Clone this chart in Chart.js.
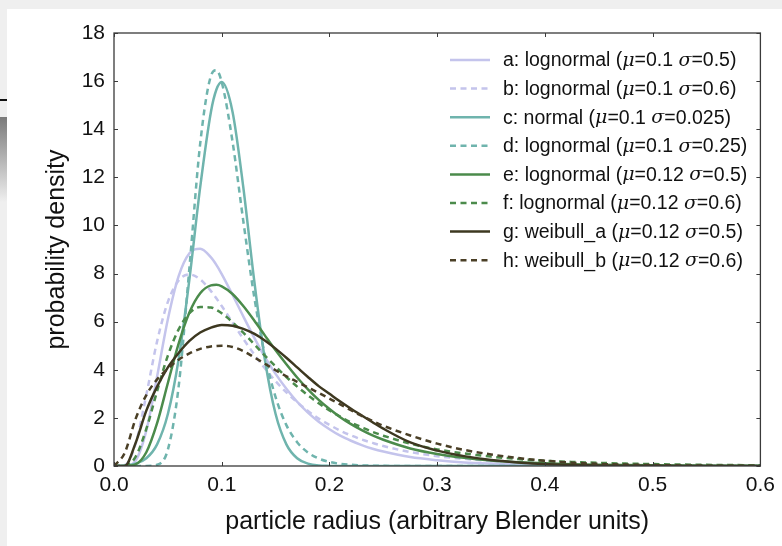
<!DOCTYPE html>
<html>
<head>
<meta charset="utf-8">
<script src="https://cdn.jsdelivr.net/npm/chart.js@4"></script>
<style>
  body { margin: 0; background: #efefef; width: 782px; height: 546px; overflow: hidden; position: relative; }
  #wrap { position: absolute; left: 7px; top: 9px; width: 775px; height: 537px; background: #fff; }
  #mark { position: absolute; left: 0; top: 99px; width: 7px; height: 2px; background: #111; }
  #shade { position: absolute; left: 0; top: 117px; width: 7px; height: 85px; background: linear-gradient(#7a7a7a, #efefef); }
</style>
</head>
<body>
<div id="mark"></div>
<div id="shade"></div>
<div id="wrap"><canvas id="distChart"></canvas></div>
<script>
// particle radius sample points
var xs = [0, 0.01, 0.02, 0.03, 0.04, 0.05, 0.06, 0.07, 0.08, 0.09, 0.095, 0.10, 0.11, 0.12, 0.13, 0.14,
  0.15, 0.16, 0.17, 0.18, 0.19, 0.20, 0.21, 0.22, 0.23, 0.24, 0.25,
  0.275, 0.3, 0.325, 0.35, 0.375, 0.4, 0.425, 0.45, 0.475, 0.5, 0.525, 0.55, 0.575, 0.6];

// probability density, one list per curve
var lognA = [0, 0.002, 0.22, 1.47, 3.72, 6.10, 7.89, 8.84, 9.03, 8.67, 8.36, 7.98, 7.12, 6.22, 5.35, 4.54,
  3.83, 3.21, 2.67, 2.22, 1.84, 1.53, 1.26, 1.05, 0.87, 0.72, 0.60,
  0.37, 0.24, 0.15, 0.10, 0.065, 0.043, 0.028, 0.019, 0.013, 0.009, 0.006, 0.004, 0.003, 0.002];
var lognB = [0, 0.04, 0.91, 2.96, 5.18, 6.82, 7.71, 7.96, 7.76, 7.27, 6.97, 6.65, 5.97, 5.29, 4.65, 4.06,
  3.53, 3.06, 2.65, 2.29, 1.97, 1.71, 1.47, 1.27, 1.10, 0.96, 0.83,
  0.58, 0.41, 0.30, 0.21, 0.16, 0.115, 0.085, 0.064, 0.048, 0.036, 0.027, 0.021, 0.016, 0.012];
var normC = [0, 0.02, 0.1, 0.32, 0.9, 2.16, 4.44, 7.76, 11.59, 14.73, 15.64, 15.96, 14.73, 11.59, 7.76, 4.44,
  2.16, 0.9, 0.32, 0.1, 0.02, 0.005, 0, 0, 0, 0, 0,
  0, 0, 0, 0, 0, 0, 0, 0, 0, 0, 0, 0, 0, 0];
var lognD = [0, 0, 0, 0, 0.05, 0.68, 3.30, 8.24, 13.4, 16.22, 16.45, 15.96, 13.49, 10.19, 7.08, 4.61,
  2.86, 1.70, 0.99, 0.56, 0.31, 0.17, 0.09, 0.05, 0.027, 0.014, 0.007,
  0.002, 0, 0, 0, 0, 0, 0, 0, 0, 0, 0, 0, 0, 0];
var lognE = [0, 0, 0.065, 0.57, 1.78, 3.45, 5.09, 6.38, 7.18, 7.51, 7.53, 7.47, 7.15, 6.65, 6.06, 5.43,
  4.81, 4.23, 3.68, 3.19, 2.75, 2.37, 2.03, 1.74, 1.49, 1.27, 1.09,
  0.73, 0.50, 0.34, 0.23, 0.16, 0.11, 0.077, 0.054, 0.038, 0.027, 0.019, 0.014, 0.010, 0.007];
var lognF = [0, 0.012, 0.38, 1.54, 3.11, 4.59, 5.68, 6.35, 6.61, 6.59, 6.49, 6.35, 5.98, 5.54, 5.07, 4.59,
  4.14, 3.70, 3.30, 2.94, 2.61, 2.31, 2.05, 1.81, 1.61, 1.42, 1.26,
  0.93, 0.69, 0.52, 0.39, 0.29, 0.22, 0.17, 0.13, 0.10, 0.079, 0.061, 0.048, 0.038, 0.030];
var weibG = [0, 0, 0.95, 2.3, 3.3, 4.1, 4.7, 5.2, 5.55, 5.75, 5.82, 5.86, 5.83, 5.7, 5.5, 5.22,
  4.88, 4.5, 4.1, 3.7, 3.32, 3.0, 2.68, 2.38, 2.1, 1.82, 1.55,
  0.98, 0.64, 0.41, 0.25, 0.15, 0.08, 0.045, 0.025, 0.013, 0.007, 0.003, 0, 0, 0];
var weibH = [0, 0.55, 1.95, 2.95, 3.6, 4.05, 4.42, 4.68, 4.87, 4.97, 4.99, 5.0, 4.95, 4.78, 4.52, 4.25,
  3.98, 3.73, 3.5, 3.27, 3.04, 2.8, 2.56, 2.32, 2.08, 1.87, 1.67,
  1.27, 0.93, 0.67, 0.48, 0.33, 0.22, 0.14, 0.09, 0.06, 0.04, 0.025, 0.015, 0.01, 0.005];

var labels = [
  'a: lognormal (μ=0.1 σ=0.5)',
  'b: lognormal (μ=0.1 σ=0.6)',
  'c: normal (μ=0.1 σ=0.025)',
  'd: lognormal (μ=0.1 σ=0.25)',
  'e: lognormal (μ=0.12 σ=0.5)',
  'f: lognormal (μ=0.12 σ=0.6)',
  'g: weibull_a (μ=0.12 σ=0.5)',
  'h: weibull_b (μ=0.12 σ=0.6)'
];
var series = [lognA, lognB, normC, lognD, lognE, lognF, weibG, weibH];
var colors = ['#c4c4ec', '#c4c4ec', '#6fb4ad', '#6fb4ad', '#4b8b4b', '#4b8b4b', '#3d3820', '#4a3f26'];
var dashed = [false, true, false, true, false, true, false, true];
var xTicks = [0, 0.1, 0.2, 0.3, 0.4, 0.5, 0.6];
var yTicks = [0, 2, 4, 6, 8, 10, 12, 14, 16, 18];

var FONT = '"Liberation Sans", Arial, sans-serif';
var DASH = [6, 4.5];

function toPoints(ys) {
  return xs.map(function(x, i) { return {x: x, y: ys[i]}; });
}

var datasets = series.map(function(ys, i) {
  return {
    label: labels[i],
    data: toPoints(ys),
    borderColor: colors[i],
    backgroundColor: colors[i],
    borderWidth: 2.5,
    borderDash: dashed[i] ? DASH : [],
    pointRadius: 0,
    cubicInterpolationMode: 'monotone',
    order: series.length - i
  };
});

// frame, inward tick marks and the in-plot legend (matplotlib look)
var framePlugin = {
  id: 'framePlugin',
  afterDatasetsDraw: function(chart) {
    var ctx = chart.ctx, ca = chart.chartArea, sx = chart.scales.x, sy = chart.scales.y;
    ctx.save();
    ctx.strokeStyle = '#3a3a3a';
    ctx.lineWidth = 1;
    xTicks.forEach(function(v) {
      var px = Math.round(sx.getPixelForValue(v)) + 0.5;
      ctx.beginPath();
      ctx.moveTo(px, ca.bottom); ctx.lineTo(px, ca.bottom - 4);
      ctx.moveTo(px, ca.top); ctx.lineTo(px, ca.top + 4);
      ctx.stroke();
    });
    yTicks.forEach(function(v) {
      var py = Math.round(sy.getPixelForValue(v)) + 0.5;
      ctx.beginPath();
      ctx.moveTo(ca.left, py); ctx.lineTo(ca.left + 4, py);
      ctx.moveTo(ca.right, py); ctx.lineTo(ca.right - 4, py);
      ctx.stroke();
    });
    ctx.lineWidth = 1.3;
    ctx.strokeRect(ca.left, ca.top, ca.width, ca.height);

    // legend
    var lx = ca.left + 336, tx = ca.left + 389;
    chart.data.datasets.forEach(function(ds, i) {
      var y = ca.top + 27 + i * 28.6;
      ctx.beginPath();
      ctx.strokeStyle = ds.borderColor;
      ctx.lineWidth = 2.5;
      ctx.setLineDash(ds.borderDash);
      ctx.moveTo(lx, y); ctx.lineTo(lx + 40, y);
      ctx.stroke();
      ctx.setLineDash([]);
      ctx.fillStyle = '#111';
      ctx.textBaseline = 'middle';
      var x = tx;
      ds.label.split('').forEach(function(ch) {
        ctx.font = (ch === 'μ' || ch === 'σ') ? 'italic 19px "DejaVu Serif", serif' : '19.5px ' + FONT;
        ctx.fillText(ch, x, y + 1);
        x += ctx.measureText(ch).width;
      });
    });
    ctx.restore();
  }
};

var chart = new Chart(document.getElementById('distChart'), {
  type: 'line',
  data: { datasets: datasets },
  plugins: [framePlugin],
  options: {
    responsive: true,
    maintainAspectRatio: false,
    animation: false,
    layout: { padding: { left: 0, top: 24, right: 19, bottom: 0 } },
    plugins: { legend: { display: false }, tooltip: { enabled: false } },
    scales: {
      x: {
        type: 'linear',
        min: 0, max: 0.6,
        afterFit: function(scale) { scale.height = 80; },
        grid: { display: false, drawTicks: false },
        border: { display: false },
        ticks: {
          stepSize: 0.1, padding: 7, color: '#111',
          font: { family: FONT, size: 21 },
          callback: function(v) { return v.toFixed(1); }
        },
        title: {
          display: true, text: 'particle radius (arbitrary Blender units)',
          color: '#111', font: { family: FONT, size: 25 }, padding: { top: 0, bottom: 9 }
        }
      },
      y: {
        min: 0, max: 18,
        afterFit: function(scale) { scale.width = 107; },
        grid: { display: false, drawTicks: false },
        border: { display: false },
        ticks: { stepSize: 2, padding: 9, color: '#111', font: { family: FONT, size: 21 } },
        title: {
          display: true, text: 'probability density',
          color: '#111', font: { family: FONT, size: 25 }, padding: { top: 35, bottom: 0 }
        }
      }
    }
  }
});
</script>
</body>
</html>
